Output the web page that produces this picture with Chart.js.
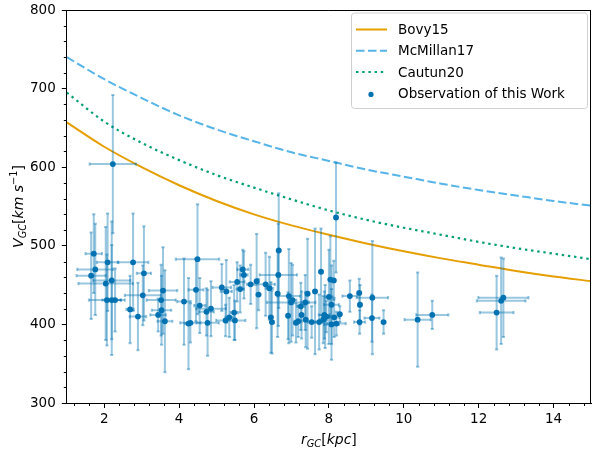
<!DOCTYPE html>
<html>
<head>
<meta charset="utf-8">
<script src="https://cdn.jsdelivr.net/npm/chart.js@4/dist/chart.umd.min.js"></script>
<style>
  html, body { margin: 0; padding: 0; background: #fff; }
  canvas { display: block; }
</style>
</head>
<body>
<canvas id="chart" width="592" height="453"></canvas>
<script>
// Galactocentric radius grid for the model escape-velocity curves (kpc)
const modelR = [1, 2, 3, 4, 5, 6, 7, 8, 9, 10, 11, 12, 13, 14, 15];
// Model curves (km/s)
const bovy15     = [657, 626, 600, 577, 557, 540, 526, 514, 503, 493, 484, 476, 468, 461, 455];
const mcmillan17 = [740, 712, 688, 666, 648, 633, 619, 608, 597, 588, 579, 571, 564, 557, 551];
const cautun20   = [695, 658, 631, 609, 590, 574, 559, 545, 533, 523, 514, 505, 497, 490, 483];

// Observed stars: radius (kpc), velocity (km/s) and their 1-sigma errors
const obsR = [
  1.72, 1.76, 1.65, 2.09, 2.04, 2.20, 2.07, 2.20, 2.29, 2.23, 2.77, 3.06, 2.69, 2.90, 3.03,
  3.57, 3.52, 3.53, 3.44, 3.62, 4.13, 4.25, 4.30, 4.49, 4.45,
  4.55, 4.73, 4.85, 4.76, 5.14, 5.26, 5.24, 5.34, 5.47, 5.49, 5.55, 5.63, 5.70, 5.73, 5.91,
  6.07, 6.12, 6.31, 6.41, 6.45, 6.48, 6.66, 6.65, 6.63, 6.91, 6.93, 6.99, 7.03, 7.12, 7.18,
  7.25, 7.27, 7.38, 7.43, 7.37, 7.54, 7.63, 7.79, 7.74, 7.85, 7.90,
  8.19, 8.04, 8.13, 8.00, 8.07, 7.88, 7.93, 8.14, 8.29, 8.07, 8.20, 8.56, 8.81, 8.83, 8.82,
  9.16, 9.15, 9.46, 10.37, 10.76, 12.66, 12.60, 12.48
];
const obsV = [
  490, 470, 462, 479, 452, 456, 431, 431, 431, 604, 479, 465, 419, 410, 437,
  443, 431, 418, 412, 404, 429, 401, 402, 483, 444,
  424, 416, 420, 402, 447, 442, 405, 409, 415, 405, 454, 445, 470, 463, 451,
  455, 438, 451, 446, 409, 403, 494, 463, 439, 411, 436, 428, 431, 402, 404,
  423, 412, 406, 439, 428, 403, 442, 467, 403, 406, 410,
  536, 457, 456, 435, 425, 412, 410, 409, 413, 400, 401, 436, 440, 425, 403,
  434, 408, 403, 406, 412, 434, 430, 415
];
const errR = [
  0.22, 0.48, 0.39, 0.29, 0.73, 0.50, 0.48, 0.25, 0.15, 0.62, 0.41, 0.19, 0.10, 0.22, 0.48,
  0.38, 0.39, 0.26, 0.21, 0.20, 0.18, 0.10, 0.27, 0.58, 0.20,
  0.15, 0.20, 0.40, 0.30, 0.25, 0.15, 0.25, 0.10, 0.10, 0.28, 0.20, 0.10, 0.15, 0.10, 0.10,
  0.05, 0.05, 0.25, 0.10, 0.05, 0.05, 0.05, 0.50, 0.05, 0.05, 0.30, 0.65, 0.10, 0.05, 0.10,
  0.10, 0.05, 0.05, 0.05, 0.10, 0.10, 0.05, 0.05, 0.10, 0.10, 0.10,
  0.05, 0.05, 0.05, 0.10, 0.20, 0.15, 0.10, 0.15, 0.05, 0.20, 0.25, 0.20, 0.05, 0.05, 0.15,
  0.42, 0.20, 0.05, 0.35, 0.43, 0.67, 0.65, 0.45
];
const errV = [
  50, 58, 55, 62, 72, 75, 58, 70, 40, 88, 62, 60, 43, 43, 38,
  55, 45, 44, 21, 65, 55, 58, 25, 70, 40,
  35, 30, 35, 42, 30, 40, 20, 25, 35, 25, 25, 30, 25, 30, 25,
  60, 20, 40, 40, 45, 40, 73, 65, 55, 30, 60, 50, 45, 25, 20,
  30, 30, 35, 70, 35, 20, 80, 55, 35, 30, 40,
  70, 55, 25, 60, 50, 30, 20, 25, 10, 45, 15, 20, 18, 25, 15,
  72, 30, 15, 60, 18, 50, 55, 47
];

// Axis ticks
const xTicks = [2, 4, 6, 8, 10, 12, 14];
const yTicks = [300, 400, 500, 600, 700, 800];

const FONT = '"DejaVu Sans", "Liberation Sans", sans-serif';
const C_BOVY = '#E69F00';
const C_MCM = '#56B4E9';
const C_CAU = '#009E73';
const C_OBS = '#0072B2';
const C_ERR = 'rgba(0,114,178,0.4)';

const series = (ys) => modelR.map((r, i) => ({ x: r, y: ys[i] }));

// Error bars drawn just before the observation markers (over the model curves)
const errorBarPlugin = {
  id: 'errorBars',
  beforeDatasetDraw(chart, args) {
    if (args.index !== 0) return;
    const { ctx, chartArea: a } = chart;
    const xs = chart.scales.x, ys = chart.scales.y;
    const cap = 1.6;
    ctx.save();
    ctx.beginPath();
    ctx.rect(a.left, a.top, a.right - a.left, a.bottom - a.top);
    ctx.clip();
    ctx.strokeStyle = C_ERR;
    ctx.lineWidth = 2;
    const seg = (x0, y0, x1, y1) => {
      ctx.beginPath(); ctx.moveTo(x0, y0); ctx.lineTo(x1, y1); ctx.stroke();
    };
    obsR.forEach((r, i) => {
      const v = obsV[i];
      const px = xs.getPixelForValue(r), py = ys.getPixelForValue(v);
      const xl = xs.getPixelForValue(r - errR[i]), xr = xs.getPixelForValue(r + errR[i]);
      const yb = ys.getPixelForValue(v - errV[i]), yt = ys.getPixelForValue(v + errV[i]);
      seg(px, yb, px, yt);
      seg(xl, py, xr, py);
      seg(px - cap, yb, px + cap, yb);
      seg(px - cap, yt, px + cap, yt);
      seg(xl, py - cap, xl, py + cap);
      seg(xr, py - cap, xr, py + cap);
    });
    ctx.restore();
  }
};

// Mathtext-like label pieces: italic, subscript and superscript runs
function mathWidth(ctx, parts, size) {
  let w = 0;
  for (const p of parts) {
    const s = p.s ? size * 0.7 : size;
    ctx.font = (p.i ? 'italic ' : '') + s + 'px ' + FONT;
    w += ctx.measureText(p.t).width;
  }
  return w;
}
function drawMath(ctx, parts, size, x0) {
  let x = x0;
  for (const p of parts) {
    const s = p.s ? size * 0.7 : size;
    ctx.font = (p.i ? 'italic ' : '') + s + 'px ' + FONT;
    const dy = p.s === 'sub' ? size * 0.22 : p.s === 'sup' ? -size * 0.42 : 0;
    ctx.fillText(p.t, x, dy);
    x += ctx.measureText(p.t).width;
  }
}

// Minor ticks, top/right spines, axis titles and legend
const decorPlugin = {
  id: 'decor',
  afterDraw(chart) {
    const { ctx, chartArea: a } = chart;
    const xs = chart.scales.x, ys = chart.scales.y;
    ctx.save();
    ctx.strokeStyle = '#000';
    ctx.lineWidth = 1;
    ctx.beginPath();
    ctx.moveTo(a.left, a.top + 0.5); ctx.lineTo(a.right, a.top + 0.5);
    ctx.moveTo(a.right - 0.5, a.top); ctx.lineTo(a.right - 0.5, a.bottom);
    ctx.stroke();
    ctx.beginPath();
    for (let k = 3; k <= 37; k++) {
      if (k % 5 === 0) continue;
      const px = Math.round(xs.getPixelForValue(k * 0.4)) + 0.5;
      ctx.moveTo(px, a.bottom); ctx.lineTo(px, a.bottom + 3);
    }
    for (let v = 320; v < 800; v += 20) {
      if (v % 100 === 0) continue;
      const py = Math.round(ys.getPixelForValue(v)) + 0.5;
      ctx.moveTo(a.left, py); ctx.lineTo(a.left - 3, py);
    }
    ctx.stroke();

    ctx.fillStyle = '#000';
    ctx.textBaseline = 'alphabetic';
    ctx.textAlign = 'left';
    const size = 14;
    const xLab = [
      { t: 'r', i: true }, { t: 'GC', i: true, s: 'sub' }, { t: '[' },
      { t: 'kpc', i: true }, { t: ']' }
    ];
    const wx = mathWidth(ctx, xLab, size);
    ctx.save();
    ctx.translate((a.left + a.right) / 2, 444);
    drawMath(ctx, xLab, size, -wx / 2);
    ctx.restore();

    const yLab = [
      { t: 'V', i: true }, { t: 'GC', i: true, s: 'sub' }, { t: '[' },
      { t: 'km s', i: true }, { t: '\u22121', s: 'sup' }, { t: ']' }
    ];
    const wy = mathWidth(ctx, yLab, size);
    ctx.save();
    ctx.translate(23, (a.top + a.bottom) / 2);
    ctx.rotate(-Math.PI / 2);
    drawMath(ctx, yLab, size, -wy / 2);
    ctx.restore();

    const bx = 351, by = 12.5, bw = 236, bh = 95.5;
    ctx.beginPath();
    ctx.roundRect(bx + 0.5, by + 0.5, bw, bh, 3);
    ctx.fillStyle = 'rgba(255,255,255,0.85)';
    ctx.fill();
    ctx.strokeStyle = '#d0d0d0';
    ctx.lineWidth = 1;
    ctx.stroke();

    const entries = [
      { label: 'Bovy15', color: C_BOVY, dash: [] },
      { label: 'McMillan17', color: C_MCM, dash: [8.5, 3.5] },
      { label: 'Cautun20', color: C_CAU, dash: [2.4, 3.8] },
      { label: 'Observation of this Work', color: C_OBS, marker: true }
    ];
    ctx.font = '13.5px ' + FONT;
    ctx.textBaseline = 'middle';
    entries.forEach((e, i) => {
      const cy = 29.5 + i * 21.3;
      if (e.marker) {
        ctx.beginPath();
        ctx.arc(371, cy + 1, 2.6, 0, Math.PI * 2);
        ctx.fillStyle = e.color;
        ctx.fill();
      } else {
        ctx.beginPath();
        ctx.setLineDash(e.dash);
        ctx.strokeStyle = e.color;
        ctx.lineWidth = 2;
        ctx.moveTo(356, cy); ctx.lineTo(387, cy);
        ctx.stroke();
        ctx.setLineDash([]);
      }
      ctx.fillStyle = '#000';
      ctx.fillText(e.label, 398, cy + 1);
    });
    ctx.restore();
  }
};

const tickFont = { family: FONT, size: 13.5 };
const noScalePadding = (s) => {
  s.paddingTop = 0; s.paddingBottom = 0; s.paddingLeft = 0; s.paddingRight = 0;
};

new Chart(document.getElementById('chart'), {
  type: 'scatter',
  data: {
    datasets: [
      {
        label: 'Observation of this Work',
        data: obsR.map((r, i) => ({ x: r, y: obsV[i] })),
        pointRadius: 2.9,
        pointHoverRadius: 0,
        pointBackgroundColor: C_OBS,
        pointBorderWidth: 0,
        order: 0
      },
      {
        label: 'Bovy15',
        data: series(bovy15),
        showLine: true, pointRadius: 0, borderColor: C_BOVY, borderWidth: 2,
        cubicInterpolationMode: 'monotone', order: 3
      },
      {
        label: 'McMillan17',
        data: series(mcmillan17),
        showLine: true, pointRadius: 0, borderColor: C_MCM, borderWidth: 2,
        borderDash: [8.5, 3.5], cubicInterpolationMode: 'monotone', order: 2
      },
      {
        label: 'Cautun20',
        data: series(cautun20),
        showLine: true, pointRadius: 0, borderColor: C_CAU, borderWidth: 2.2,
        borderDash: [2.4, 3.8], cubicInterpolationMode: 'monotone', order: 1
      }
    ]
  },
  options: {
    responsive: false,
    animation: false,
    devicePixelRatio: 1,
    events: [],
    layout: { autoPadding: false, padding: { left: 0, top: 10, right: 1, bottom: 0 } },
    plugins: { legend: { display: false }, tooltip: { enabled: false } },
    scales: {
      x: {
        type: 'linear', min: 1, max: 15,
        afterBuildTicks: (s) => { s.ticks = xTicks.map(v => ({ value: v })); },
        afterFit: (s) => { s.height = 50; noScalePadding(s); },
        ticks: { font: tickFont, color: '#000', padding: 3.5, maxRotation: 0, autoSkip: false },
        grid: { drawOnChartArea: false, color: '#000', tickLength: 5, lineWidth: 1 },
        border: { color: '#000', width: 1 }
      },
      y: {
        type: 'linear', min: 300, max: 800,
        afterBuildTicks: (s) => { s.ticks = yTicks.map(v => ({ value: v })); },
        afterFit: (s) => { s.width = 66.8; noScalePadding(s); },
        ticks: { font: tickFont, color: '#000', padding: 6, autoSkip: false },
        grid: { drawOnChartArea: false, color: '#000', tickLength: 5, lineWidth: 1 },
        border: { color: '#000', width: 1 }
      }
    }
  },
  plugins: [errorBarPlugin, decorPlugin]
});
</script>
</body>
</html>
